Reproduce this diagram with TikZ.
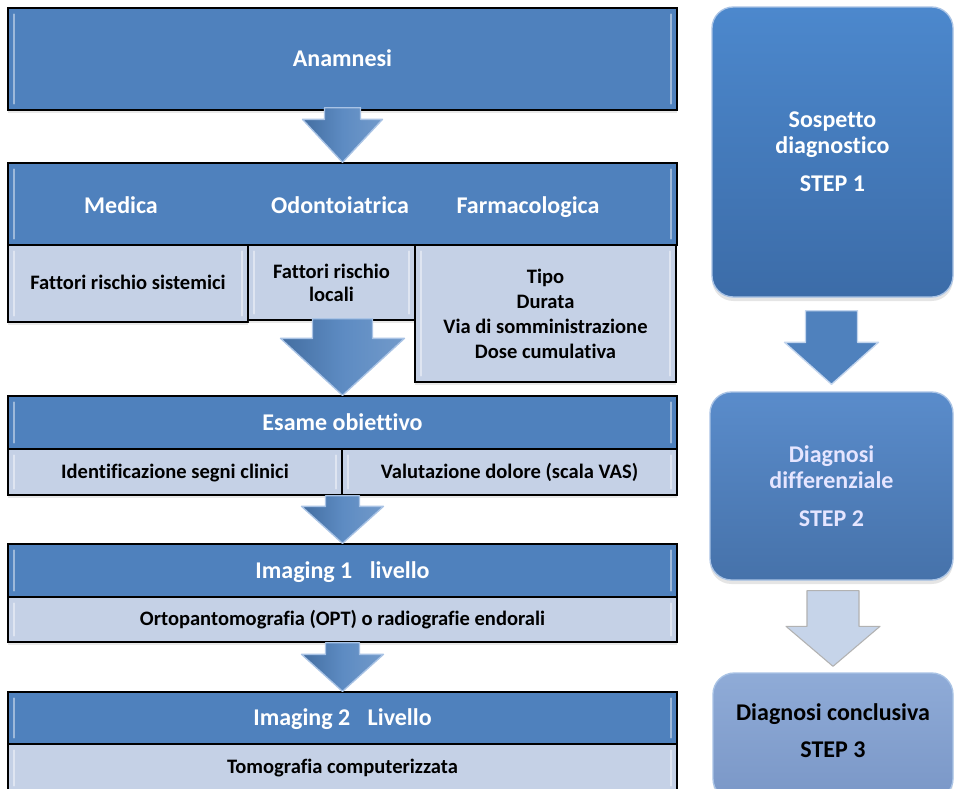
\documentclass[tikz,border=0pt]{standalone}
\usepackage{fontspec}
\setmainfont{Carlito}[Ligatures=CommonOff]
\usetikzlibrary{calc,fit,shadows}
\definecolor{hdrblue}{HTML}{4F81BD}
\definecolor{subblue}{HTML}{C5D1E6}
\definecolor{rtop}{HTML}{4C88CD}
\definecolor{rbot}{HTML}{3C6CA8}
\definecolor{r2top}{HTML}{5A8CCB}
\definecolor{r2bot}{HTML}{4672AA}
\definecolor{r3top}{HTML}{8FABD7}
\definecolor{r3bot}{HTML}{7A97C7}
\definecolor{rim}{HTML}{A9C3E5}
\definecolor{lightarrow}{HTML}{C6D4E9}
\tikzset{
  box/.style={draw=black, line width=1pt, inner sep=0pt},
  hdrbox/.style={box, fill=hdrblue,
    drop shadow={opacity=0.18, shadow xshift=0pt, shadow yshift=-2.5pt}},
  subbox/.style={box, fill=subblue,
    drop shadow={opacity=0.18, shadow xshift=0pt, shadow yshift=-2.5pt}},
  htext/.style={text=white, font=\bfseries\fontsize{18pt}{21pt}\selectfont, inner sep=0pt, anchor=base},
  stext/.style={text=black, font=\bfseries\fontsize{15.4pt}{18pt}\selectfont, inner sep=0pt, anchor=base},
  mtext/.style={inner sep=0pt, anchor=center, align=center},
  stepbox/.style={rounded corners=16pt, draw=rim, line width=1pt, inner sep=0pt,
    drop shadow={opacity=0.2, shadow xshift=0pt, shadow yshift=-3pt}},
  steptext/.style={inner sep=0pt, anchor=center, align=center,
    font=\bfseries\fontsize{18pt}{19.5pt}\selectfont},
  bevel/.style={white, opacity=0.45, line width=1.6pt, line cap=round},
  larrow/.style={left color=hdrblue!85!black, right color=hdrblue!80!white, middle color=hdrblue!92!white,
    draw=rim, line width=1pt, line join=round},
  rarrow/.style={fill=hdrblue, draw=rim!70!white, line width=1pt, line join=round},
  parrow/.style={fill=lightarrow, draw=black!30, line width=0.8pt, line join=round},
}
% style, start, tip, stem half width, head half width, head length (px)
\newcommand\blockarrow[6]{%
  \path[#1] let \p1=#2, \p2=#3 in
   ({\x2-#4*0.75pt},\y1) -- ({\x2+#4*0.75pt},\y1) -- ({\x2+#4*0.75pt},{\y2+#6*0.75pt})
   -- ({\x2+#5*0.75pt},{\y2+#6*0.75pt}) -- (\x2,\y2) -- ({\x2-#5*0.75pt},{\y2+#6*0.75pt})
   -- ({\x2-#4*0.75pt},{\y2+#6*0.75pt}) -- cycle;
}
\newcommand\bevelbox[1]{%
  \draw[bevel] ([shift={(7,7)}]#1.north west) -- ([shift={(7,-7)}]#1.south west);
  \draw[bevel] ([shift={(-7,7)}]#1.north east) -- ([shift={(-7,-7)}]#1.south east);
}
\begin{document}
\begin{tikzpicture}[x=0.75pt,y=-0.75pt]
\useasboundingbox (0,0) rectangle (954,789);
\fill[white] (0,0) rectangle (954,789);

% ---- left column ----
\node[hdrbox, fit={(8,8)(677,110)}] (ana) {};
\bevelbox{ana}
\node[htext] (anat) at ($(ana.center)+(0,7.5)$) {Anamnesi};

\node[hdrbox, fit={(8,163)(677,245)}] (h2) {};
\bevelbox{h2}
\node[htext] (med) at (121,213) {Medica};
\node[htext] (odo) at (340,213) {Odontoiatrica};
\node[htext] (far) at (528,213) {Farmacologica};

\node[subbox, fit={(8,245)(248,322)}] (s1) {};
\bevelbox{s1}
\node[stext] (s1t) at ($(s1.center)+(0,6)$) {Fattori rischio sistemici};
\node[subbox, fit={(248,245)(415,320)}] (s2) {};
\bevelbox{s2}
\node[stext, mtext, font=\bfseries\fontsize{15.4pt}{17.25pt}\selectfont] (s2t) at (s2.center) {Fattori rischio\\locali};
\node[subbox, fit={(415,245)(676,382)}] (s3) {};
\bevelbox{s3}
\node[stext, mtext, font=\bfseries\fontsize{15.4pt}{18.75pt}\selectfont] (s3t) at (s3.center)
  {Tipo\\Durata\\Via di somministrazione\\Dose cumulativa};

\node[hdrbox, fit={(8,396)(677,449)}] (ese) {};
\bevelbox{ese}
\node[htext] (eset) at ($(ese.center)+(0,7.5)$) {Esame obiettivo};
\node[subbox, fit={(8,449)(342,495)}] (e1) {};
\bevelbox{e1}
\node[stext] (e1t) at ($(e1.center)+(0,6)$) {Identificazione segni clinici};
\node[subbox, fit={(342,449)(677,495)}] (e2) {};
\bevelbox{e2}
\node[stext] (e2t) at ($(e2.center)+(0,6)$) {Valutazione dolore (scala VAS)};

\node[hdrbox, fit={(8,544)(677,597)}] (im1) {};
\bevelbox{im1}
\node[htext] (im1t) at ($(im1.center)+(0,7.5)$) {Imaging 1\hspace{9pt} livello};
\node[subbox, fit={(8,597)(677,642)}] (o1) {};
\bevelbox{o1}
\node[stext] (o1t) at ($(o1.center)+(0,6)$) {Ortopantomografia (OPT) o radiografie endorali};

\node[hdrbox, fit={(8,692)(677,744)}] (im2) {};
\bevelbox{im2}
\node[htext] (im2t) at ($(im2.center)+(0,7.5)$) {Imaging 2\hspace{9pt} Livello};
\node[subbox, fit={(8,744)(677,792)}] (o2) {};
\bevelbox{o2}
\node[stext] (o2t) at (342.5,773) {Tomografia computerizzata};

% ---- right column ----
\node[stepbox, top color=rtop, bottom color=rbot, fit={(712,7)(953,297)}] (r1) {};
\node[steptext, text=white] (r1t) at (r1.center) {Sospetto\\diagnostico\\[9pt]STEP 1};
\node[stepbox, top color=r2top, bottom color=r2bot, fit={(710,392)(953,580)}] (r2) {};
\node[steptext, text=white!90!blue] (r2t) at (r2.center) {Diagnosi\\differenziale\\[9pt]STEP 2};
\node[stepbox, top color=r3top, bottom color=r3bot, fit={(713,673)(953,800)}] (r3) {};
\node[steptext, text=black, font=\bfseries\fontsize{18pt}{27.75pt}\selectfont] (r3t) at (833,731)
  {Diagnosi conclusiva\\STEP 3};

% ---- arrows ----
\blockarrow{larrow}{($(ana.south)+(0,-3)$)}{(h2.north)}{18}{40}{43}
\blockarrow{larrow}{($(s2.south)+(0,-2)$)}{(ese.north)}{30}{62}{57}
\blockarrow{larrow}{(e1.south east)}{(im1.north)}{17}{41}{37}
\blockarrow{larrow}{(o1.south)}{(im2.north)}{17}{41}{37}

\blockarrow{rarrow}{($(r1.south)+(0,13)$)}{($(r2.north)+(0,-7)$)}{26}{47}{42}
\blockarrow{parrow}{($(r2.south)+(0,10)$)}{($(r3.north)+(0,-6)$)}{26}{47}{40}
\end{tikzpicture}
\end{document}
